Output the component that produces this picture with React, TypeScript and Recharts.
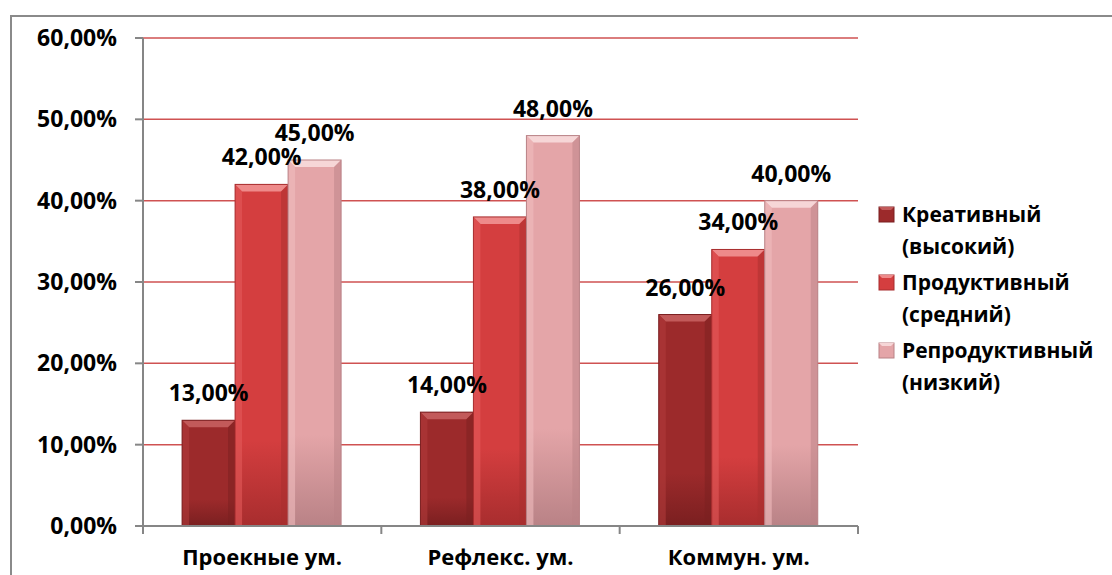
import React from "react";
import { BarChart, Bar, XAxis, YAxis, CartesianGrid, LabelList } from "recharts";

const categories = ["Проекные ум.", "Рефлекс. ум.", "Коммун. ум."];
const creative = [0.13, 0.14, 0.26];
const productive = [0.42, 0.38, 0.34];
const reproductive = [0.45, 0.48, 0.4];
const yTicks = [0, 0.1, 0.2, 0.3, 0.4, 0.5, 0.6];
const seriesNames = [
  ["Креативный", "(высокий)"],
  ["Продуктивный", "(средний)"],
  ["Репродуктивный", "(низкий)"],
];

const data = categories.map((name, i) => ({
  name,
  creative: creative[i],
  productive: productive[i],
  reproductive: reproductive[i],
}));

const W = 1112;
const H = 575;
const MARGIN = { top: 38, right: 254, left: 0, bottom: 0 };
const Y_WIDTH = 143;
const X_HEIGHT = 49;
const FONT = "'Open Sans', 'Noto Sans', sans-serif";

const PALETTE = [
  { id: "g1", light: "#b03a3a", main: "#9c2a2b", dark: "#7a1f20", top: "#c25a5a" },
  { id: "g2", light: "#e25a5a", main: "#d43e3f", dark: "#a82d2e", top: "#ee8a8a" },
  { id: "g3", light: "#f0bcbe", main: "#e4a5a8", dark: "#b98286", top: "#f6d6d7" },
];

const pct = (v: number) => (v * 100).toFixed(2).replace(".", ",") + "%";

function makeShape(k: number) {
  const c = PALETTE[k];
  return (props: any) => {
    const { x, y, width, height } = props;
    if (!height || height <= 0) return null;
    const b = Math.min(7, width / 4, height / 2);
    return (
      <g>
        <rect x={x} y={y} width={width} height={height} fill={`url(#${c.id})`} />
        <polygon
          points={`${x},${y} ${x + width},${y} ${x + width - b},${y + b} ${x + b},${y + b}`}
          fill={c.top}
        />
        <polygon
          points={`${x},${y} ${x + b},${y + b} ${x + b},${y + height} ${x},${y + height}`}
          fill={c.light}
          opacity={0.6}
        />
        <polygon
          points={`${x + width},${y} ${x + width - b},${y + b} ${x + width - b},${y + height} ${x + width},${y + height}`}
          fill={c.dark}
          opacity={0.5}
        />
        <rect x={x} y={y} width={width} height={height} fill="none" stroke={c.dark} strokeWidth={1} />
      </g>
    );
  };
}

const band = (W - Y_WIDTH - MARGIN.right) / categories.length;

function XTick(props: any) {
  const { x, payload, index } = props;
  const y0 = H - X_HEIGHT;
  return (
    <g>
      <line x1={x + band / 2} y1={y0} x2={x + band / 2} y2={y0 + 8} stroke="#868686" strokeWidth={2} />
      {index === 0 && (
        <line x1={x - band / 2} y1={y0} x2={x - band / 2} y2={y0 + 8} stroke="#868686" strokeWidth={2} />
      )}
      <text x={x} y={y0 + 39} textAnchor="middle" fontFamily={FONT} fontWeight={700} fontSize={22} fill="#000">
        {payload.value}
      </text>
    </g>
  );
}

function LegendBox() {
  return (
    <div
      style={{
        position: "absolute",
        left: 877,
        top: 198,
        fontFamily: FONT,
        fontWeight: 700,
        fontSize: 21,
        lineHeight: "32px",
        color: "#000",
      }}
    >
      {seriesNames.map((lines, i) => (
        <div key={i} style={{ display: "flex", alignItems: "flex-start", marginBottom: 4 }}>
          <svg width={20} height={32} style={{ marginRight: 5, flexShrink: 0 }}>
            <rect x={2} y={9} width={15} height={15} fill={PALETTE[i].main} stroke={PALETTE[i].dark} />
            <polygon points="2,9 17,9 14,12 5,12" fill={PALETTE[i].top} />
          </svg>
          <div>
            <div>{lines[0]}</div>
            <div>{lines[1]}</div>
          </div>
        </div>
      ))}
    </div>
  );
}

const labelStyle = { fontFamily: FONT, fontWeight: 700, fontSize: 23, fill: "#000" };

export default function App() {
  return (
    <div style={{ position: "fixed", left: 0, top: 0, width: W, height: H, overflow: "hidden", background: "#fff" }}>
      <div
        style={{
          position: "absolute",
          left: 10,
          top: 15,
          width: W,
          height: H,
          borderLeft: "2px solid #8a8a8a",
          borderTop: "2px solid #8a8a8a",
        }}
      />
      <div style={{ position: "absolute", left: 0, top: 0 }}>
        <BarChart width={W} height={H} data={data} margin={MARGIN} barCategoryGap="16.4%" barGap={0}>
          <defs>
            {PALETTE.map((c) => (
              <linearGradient key={c.id} id={c.id} x1="0" y1="0" x2="0" y2="1">
                <stop offset="0%" stopColor={c.main} />
                <stop offset="75%" stopColor={c.main} />
                <stop offset="100%" stopColor={c.dark} />
              </linearGradient>
            ))}
          </defs>
          <CartesianGrid vertical={false} stroke="#cf5252" strokeWidth={1.5} horizontalValues={yTicks.slice(1)} />
          <YAxis
            width={Y_WIDTH}
            domain={[0, 0.6]}
            ticks={yTicks}
            tickFormatter={pct}
            axisLine={{ stroke: "#868686", strokeWidth: 2 }}
            tickLine={{ stroke: "#868686", strokeWidth: 2 }}
            tickSize={8}
            tickMargin={18}
            tick={{ fontFamily: FONT, fontWeight: 700, fontSize: 23, fill: "#000" }}
          />
          <XAxis
            dataKey="name"
            height={X_HEIGHT}
            axisLine={{ stroke: "#868686", strokeWidth: 2 }}
            tickLine={false}
            tick={<XTick />}
          />
          <Bar dataKey="creative" name="Креативный (высокий)" shape={makeShape(0)} isAnimationActive={false}>
            <LabelList dataKey="creative" position="top" offset={19} formatter={pct} style={labelStyle} />
          </Bar>
          <Bar dataKey="productive" name="Продуктивный (средний)" shape={makeShape(1)} isAnimationActive={false}>
            <LabelList dataKey="productive" position="top" offset={19} formatter={pct} style={labelStyle} />
          </Bar>
          <Bar dataKey="reproductive" name="Репродуктивный (низкий)" shape={makeShape(2)} isAnimationActive={false}>
            <LabelList dataKey="reproductive" position="top" offset={19} formatter={pct} style={labelStyle} />
          </Bar>
        </BarChart>
      </div>
      <LegendBox />
    </div>
  );
}
